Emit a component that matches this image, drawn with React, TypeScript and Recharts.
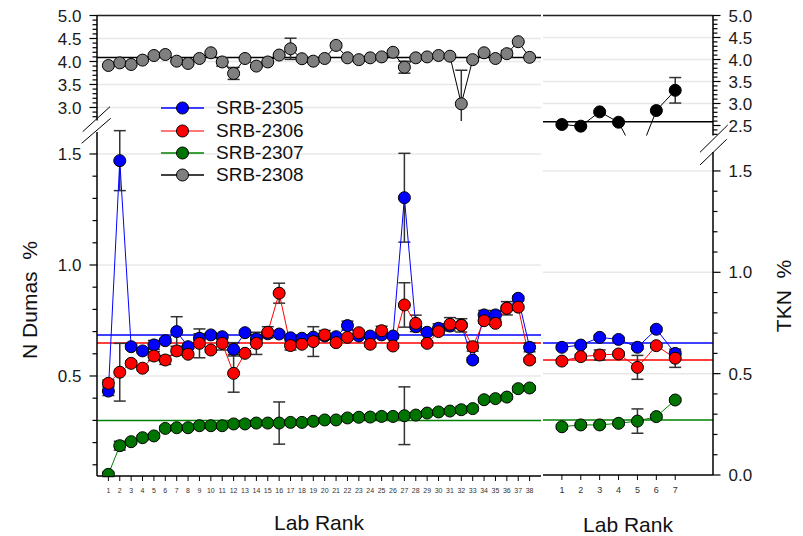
import React from 'react';
import {
  LineChart,
  Line,
  XAxis,
  YAxis,
  ErrorBar,
  ReferenceLine,
  CartesianGrid,
} from 'recharts';

// ---- categories ----
const labsLeft = [
  1, 2, 3, 4, 5, 6, 7, 8, 9, 10, 11, 12, 13, 14, 15, 16, 17, 18, 19, 20,
  21, 22, 23, 24, 25, 26, 27, 28, 29, 30, 31, 32, 33, 34, 35, 36, 37, 38,
];
const labsRight = [1, 2, 3, 4, 5, 6, 7];

// ---- N Dumas (left) ----
const srb2305Left = [
  0.432, 1.47, 0.632, 0.613, 0.64, 0.659, 0.7, 0.632, 0.67, 0.685, 0.677, 0.62,
  0.695, 0.667, 0.69, 0.689, 0.672, 0.67, 0.675, 0.68, 0.677, 0.727, 0.68, 0.68,
  0.685, 0.68, 1.303, 0.722, 0.697, 0.715, 0.725, 0.73, 0.572, 0.775, 0.775,
  0.806, 0.85, 0.629,
];
const srb2305LeftErr = [
  0.02, 0.135, 0.01, 0.01, 0.02, 0.01, 0.067, 0.01, 0.02, 0.01, 0.01, 0.03,
  0.01, 0.02, 0.01, 0.01, 0.01, 0.01, 0.01, 0.01, 0.01, 0.02, 0.01, 0.01, 0.01,
  0.01, 0.2, 0.01, 0.01, 0.02, 0.01, 0.01, 0.01, 0.02, 0.02, 0.01, 0.01, 0.02,
];
const srb2306Left = [
  0.467, 0.517, 0.557, 0.535, 0.59, 0.572, 0.613, 0.598, 0.647, 0.617, 0.647,
  0.512, 0.602, 0.647, 0.697, 0.873, 0.637, 0.643, 0.655, 0.685, 0.65, 0.674,
  0.695, 0.643, 0.704, 0.635, 0.82, 0.737, 0.647, 0.7, 0.733, 0.728, 0.632,
  0.749, 0.737, 0.805, 0.81, 0.572,
];
const srb2306LeftErr = [
  0.015, 0.13, 0.01, 0.01, 0.02, 0.02, 0.02, 0.01, 0.065, 0.01, 0.03, 0.085,
  0.01, 0.05, 0.025, 0.045, 0.02, 0.01, 0.067, 0.02, 0.01, 0.01, 0.01, 0.01,
  0.02, 0.01, 0.1, 0.037, 0.01, 0.01, 0.03, 0.03, 0.02, 0.01, 0.01, 0.03, 0.01,
  0.01,
];
const srb2307Left = [
  0.057, 0.186, 0.204, 0.222, 0.23, 0.264, 0.267, 0.267, 0.276, 0.276, 0.276,
  0.284, 0.284, 0.288, 0.288, 0.288, 0.291, 0.291, 0.296, 0.302, 0.302, 0.311,
  0.314, 0.315, 0.318, 0.318, 0.321, 0.324, 0.333, 0.338, 0.342, 0.348, 0.353,
  0.393, 0.398, 0.405, 0.443, 0.446,
];
const srb2307LeftErr = [
  0.01, 0.02, 0.01, 0.01, 0.01, 0.01, 0.01, 0.01, 0.01, 0.01, 0.01, 0.01, 0.01,
  0.01, 0.01, 0.095, 0.01, 0.01, 0.01, 0.01, 0.01, 0.01, 0.01, 0.01, 0.01, 0.01,
  0.13, 0.01, 0.01, 0.01, 0.01, 0.015, 0.01, 0.01, 0.01, 0.01, 0.01, 0.01,
];
const srb2308Left = [
  3.913, 3.97, 3.935, 4.03, 4.13, 4.152, 4.007, 3.957, 4.065, 4.19, 3.99, 3.74,
  4.065, 3.9, 3.99, 4.14, 4.276, 4.06, 4.007, 4.065, 4.35, 4.08, 4.04, 4.08, 4.1,
  4.2, 3.876, 4.08, 4.1, 4.13, 4.115, 3.08, 4.04, 4.19, 4.065, 4.17, 4.43, 4.09,
];
const srb2308LeftErr = [
  0.02, 0.02, 0.02, 0.02, 0.02, 0.02, 0.02, 0.02, 0.02, 0.02, 0.09, 0.13, 0.02,
  0.02, 0.02, 0.02, 0.23, 0.02, 0.02, 0.02, 0.05, 0.02, 0.02, 0.02, 0.02, 0.03,
  0.13, 0.02, 0.02, 0.02, 0.02, 0.73, 0.02, 0.02, 0.02, 0.07, 0.02, 0.02,
];

// ---- TKN (right) ----
const srb2305Right = [0.63, 0.641, 0.679, 0.669, 0.63, 0.719, 0.6];
const srb2305RightErr = [0.01, 0.01, 0.01, 0.01, 0.01, 0.01, 0.01];
const srb2306Right = [0.562, 0.584, 0.592, 0.597, 0.531, 0.638, 0.576];
const srb2306RightErr = [0.01, 0.01, 0.025, 0.01, 0.059, 0.01, 0.045];
const srb2307Right = [0.238, 0.247, 0.247, 0.255, 0.266, 0.288, 0.37];
const srb2307RightErr = [0.01, 0.01, 0.01, 0.01, 0.06, 0.01, 0.01];
const srb2308Right = [2.523, 2.485, 2.81, 2.575, 1.75, 2.84, 3.3];
const srb2308RightErr = [0.02, 0.02, 0.03, 0.02, 0, 0.02, 0.29];

// ---- consensus lines ----
const meanLeft = { b: 0.685, r: 0.649, g: 0.3, k: 4.087 };
const meanRight = { b: 0.651, r: 0.567, g: 0.271, k: 2.584 };

// ---- tick labels ----
const majorTopLeft = [3.0, 3.5, 4.0, 4.5, 5.0];
const majorTopRight = [2.5, 3.0, 3.5, 4.0, 4.5, 5.0];
const majorBottomLeft = [0.5, 1.0, 1.5];
const majorBottomRight = [0.0, 0.5, 1.0, 1.5];

const steps = (from: number, to: number) => {
  const out: number[] = [];
  for (let i = Math.round(from * 10); i <= Math.round(to * 10); i++) out.push(i / 10);
  return out;
};
const ticksTopLeft = steps(2.8, 5.0);
const ticksTopRight = steps(2.3, 5.0);
const ticksBottomLeft = steps(0.1, 1.5);
const ticksBottomRight = steps(0.0, 1.5);

const leftRows = labsLeft.map((lab, i) => ({
  lab,
  b: srb2305Left[i],
  bErr: srb2305LeftErr[i],
  r: srb2306Left[i],
  rErr: srb2306LeftErr[i],
  g: srb2307Left[i],
  gErr: srb2307LeftErr[i],
  k: srb2308Left[i],
  kErr: srb2308LeftErr[i],
}));
const rightRows = labsRight.map((lab, i) => ({
  lab,
  b: srb2305Right[i],
  bErr: srb2305RightErr[i],
  r: srb2306Right[i],
  rErr: srb2306RightErr[i],
  g: srb2307Right[i],
  gErr: srb2307RightErr[i],
  k: srb2308Right[i],
  kErr: srb2308RightErr[i],
}));

const BLUE = '#0000ff';
const RED = '#ff0000';
const GREEN = '#008000';
const GREEN_DOT = '#007400';
const GRAY_DOT = '#7f7f7f';
const GRID = '#e8e8e8';
const FONT = '"Liberation Sans", Arial, Helvetica, sans-serif';

const makeYTick = (side: 'left' | 'right', majors: number[]) => (props: any) => {
  const { x, y, payload } = props;
  const v = payload.value as number;
  const major = majors.some((m) => Math.abs(m - v) < 1e-6);
  const len = major ? 7.5 : 4.5;
  const dir = side === 'left' ? -1 : 1;
  return (
    <g>
      <line x1={x} y1={y} x2={x + dir * len} y2={y} stroke="#000" strokeWidth={1.2} />
      {major && (
        <text
          x={x + dir * (len + 8)}
          y={y}
          dy="0.36em"
          textAnchor={side === 'left' ? 'end' : 'start'}
          fontSize={17}
          fill="#1a1a1a"
        >
          {v.toFixed(1)}
        </text>
      )}
    </g>
  );
};

const dot = (fill: string) => ({ r: 6, fill, stroke: '#000', strokeWidth: 1 });

function Series({ dataKey, errKey, stroke, fill }: any) {
  return (
    <Line
      dataKey={dataKey}
      stroke={stroke}
      strokeWidth={1}
      dot={dot(fill)}
      activeDot={false}
      isAnimationActive={false}
    >
      <ErrorBar dataKey={errKey} width={6} stroke="#333" strokeWidth={1.5} isAnimationActive={false} />
    </Line>
  );
}

function Legend() {
  const items = [
    { name: 'SRB-2305', line: BLUE, fill: BLUE },
    { name: 'SRB-2306', line: '#ff4d4d', fill: RED },
    { name: 'SRB-2307', line: GREEN, fill: GREEN_DOT },
    { name: 'SRB-2308', line: '#000', fill: GRAY_DOT },
  ];
  return (
    <div style={{ position: 'absolute', left: 161, top: 97 }}>
      {items.map((it) => (
        <div key={it.name} style={{ height: 22.4, display: 'flex', alignItems: 'center' }}>
          <svg width={44} height={14}>
            <line x1={0} y1={7} x2={43} y2={7} stroke={it.line} strokeWidth={1.5} />
            <circle cx={21.5} cy={7} r={6} fill={it.fill} stroke="#000" strokeWidth={1} />
          </svg>
          <span style={{ marginLeft: 11, fontSize: 19, color: '#111' }}>{it.name}</span>
        </div>
      ))}
    </div>
  );
}

export default function App() {
  const yAxisCommon = {
    type: 'number' as const,
    allowDataOverflow: true,
    interval: 0 as const,
    tickSize: 0,
    tickMargin: 0,
    tickLine: false,
    axisLine: { stroke: '#000', strokeWidth: 1.5 },
  };
  return (
    <div
      style={{
        position: 'absolute',
        left: 0,
        top: 0,
        width: 803,
        height: 536,
        background: '#fff',
        fontFamily: FONT,
      }}
    >
      {/* left top: SRB-2308 */}
      <div style={{ position: 'absolute', left: 0, top: 0 }}>
        <LineChart width={541} height={121} data={leftRows} margin={{ top: 15.5, right: 0, bottom: 0.5, left: 0 }}>
          <CartesianGrid vertical={false} horizontalValues={majorTopLeft} stroke={GRID} strokeWidth={1.5} />
          <XAxis dataKey="lab" type="number" domain={[0, 39]} allowDataOverflow hide height={0} />
          <YAxis {...yAxisCommon} width={97} domain={[2.717, 5.0]} ticks={ticksTopLeft} tick={makeYTick('left', majorTopLeft)} />
          <ReferenceLine y={5.0} stroke="#222" strokeWidth={1.5} />
          <ReferenceLine y={meanLeft.k} stroke="#000" strokeWidth={1.5} />
          <Series dataKey="k" errKey="kErr" stroke="#000" fill={GRAY_DOT} />
        </LineChart>
      </div>

      {/* left bottom */}
      <div style={{ position: 'absolute', left: 0, top: 120 }}>
        <LineChart width={541} height={386} data={leftRows} margin={{ top: 12, right: 0, bottom: 0, left: 0 }}>
          <CartesianGrid vertical={false} horizontalValues={majorBottomLeft} stroke={GRID} strokeWidth={1.5} />
          <XAxis
            dataKey="lab"
            type="number"
            domain={[0, 39]}
            allowDataOverflow
            ticks={labsLeft}
            interval={0}
            height={30}
            tickSize={5}
            tickMargin={7}
            tick={{ fontSize: 7, fill: '#333' }}
            tickLine={{ stroke: '#000' }}
            axisLine={{ stroke: '#000', strokeWidth: 1.5 }}
          />
          <YAxis {...yAxisCommon} width={97} domain={[0.0495, 1.599]} ticks={ticksBottomLeft} tick={makeYTick('left', majorBottomLeft)} />
          <ReferenceLine y={meanLeft.b} stroke={BLUE} strokeWidth={1.5} />
          <ReferenceLine y={meanLeft.r} stroke={RED} strokeWidth={1.5} />
          <ReferenceLine y={meanLeft.g} stroke={GREEN} strokeWidth={1.5} />
          <Series dataKey="b" errKey="bErr" stroke={BLUE} fill={BLUE} />
          <Series dataKey="r" errKey="rErr" stroke={RED} fill={RED} />
          <Series dataKey="g" errKey="gErr" stroke={GREEN} fill={GREEN_DOT} />
        </LineChart>
      </div>

      {/* right top */}
      <div style={{ position: 'absolute', left: 543, top: 0 }}>
        <LineChart width={260} height={136} data={rightRows} margin={{ top: 15.5, right: 0, bottom: 0.5, left: 0 }}>
          <CartesianGrid vertical={false} horizontalValues={majorTopRight.slice(1)} stroke={GRID} strokeWidth={1.5} />
          <XAxis dataKey="lab" type="number" domain={[0, 9]} allowDataOverflow hide height={0} />
          <YAxis {...yAxisCommon} orientation="right" width={90} domain={[2.273, 5.0]} ticks={ticksTopRight} tick={makeYTick('right', majorTopRight)} />
          <ReferenceLine y={5.0} stroke="#222" strokeWidth={1.5} />
          <ReferenceLine y={meanRight.k} stroke="#000" strokeWidth={1.5} />
          <Series dataKey="k" errKey="kErr" stroke="#000" fill="#000" />
        </LineChart>
      </div>

      {/* right bottom */}
      <div style={{ position: 'absolute', left: 543, top: 140 }}>
        <LineChart width={260} height={365} data={rightRows} margin={{ top: 12, right: 0, bottom: 0, left: 0 }}>
          <CartesianGrid vertical={false} horizontalValues={majorBottomRight.slice(1)} stroke={GRID} strokeWidth={1.5} />
          <XAxis
            dataKey="lab"
            type="number"
            domain={[0, 9]}
            allowDataOverflow
            ticks={labsRight}
            interval={0}
            height={30}
            tickSize={5}
            tickMargin={7}
            tick={{ fontSize: 9, fill: '#333' }}
            tickLine={{ stroke: '#000' }}
            axisLine={{ stroke: '#000', strokeWidth: 1.5 }}
          />
          <YAxis {...yAxisCommon} orientation="right" width={90} domain={[0, 1.5935]} ticks={ticksBottomRight} tick={makeYTick('right', majorBottomRight)} />
          <ReferenceLine y={meanRight.b} stroke={BLUE} strokeWidth={1.5} />
          <ReferenceLine y={meanRight.r} stroke={RED} strokeWidth={1.5} />
          <ReferenceLine y={meanRight.g} stroke={GREEN} strokeWidth={1.5} />
          <Series dataKey="b" errKey="bErr" stroke={BLUE} fill={BLUE} />
          <Series dataKey="r" errKey="rErr" stroke={RED} fill={RED} />
          <Series dataKey="g" errKey="gErr" stroke={GREEN} fill={GREEN_DOT} />
        </LineChart>
      </div>

      {/* axis break marks */}
      <svg width={803} height={536} style={{ position: 'absolute', left: 0, top: 0, pointerEvents: 'none' }}>
        <line x1={82.7} y1={131.7} x2={110} y2={106.7} stroke="#000" strokeWidth={1} />
        <line x1={81.7} y1={143.3} x2={110.7} y2={118.3} stroke="#000" strokeWidth={1} />
        <line x1={700} y1={152.3} x2={727.7} y2={125} stroke="#000" strokeWidth={1} />
        <line x1={700} y1={165} x2={726.7} y2={139.3} stroke="#000" strokeWidth={1} />
      </svg>

      <Legend />

      {/* axis titles */}
      <div style={{ position: 'absolute', left: 319, top: 523, transform: 'translate(-50%, -50%)', fontSize: 21, whiteSpace: 'pre', color: '#111' }}>
        Lab Rank
      </div>
      <div style={{ position: 'absolute', left: 628, top: 525, transform: 'translate(-50%, -50%)', fontSize: 21, whiteSpace: 'pre', color: '#111' }}>
        Lab Rank
      </div>
      <div style={{ position: 'absolute', left: 30, top: 300, transform: 'translate(-50%, -50%) rotate(-90deg)', fontSize: 21, whiteSpace: 'pre', color: '#111' }}>
        N Dumas  %
      </div>
      <div style={{ position: 'absolute', left: 784, top: 296, transform: 'translate(-50%, -50%) rotate(-90deg)', fontSize: 21, whiteSpace: 'pre', color: '#111' }}>
        TKN  %
      </div>
    </div>
  );
}
